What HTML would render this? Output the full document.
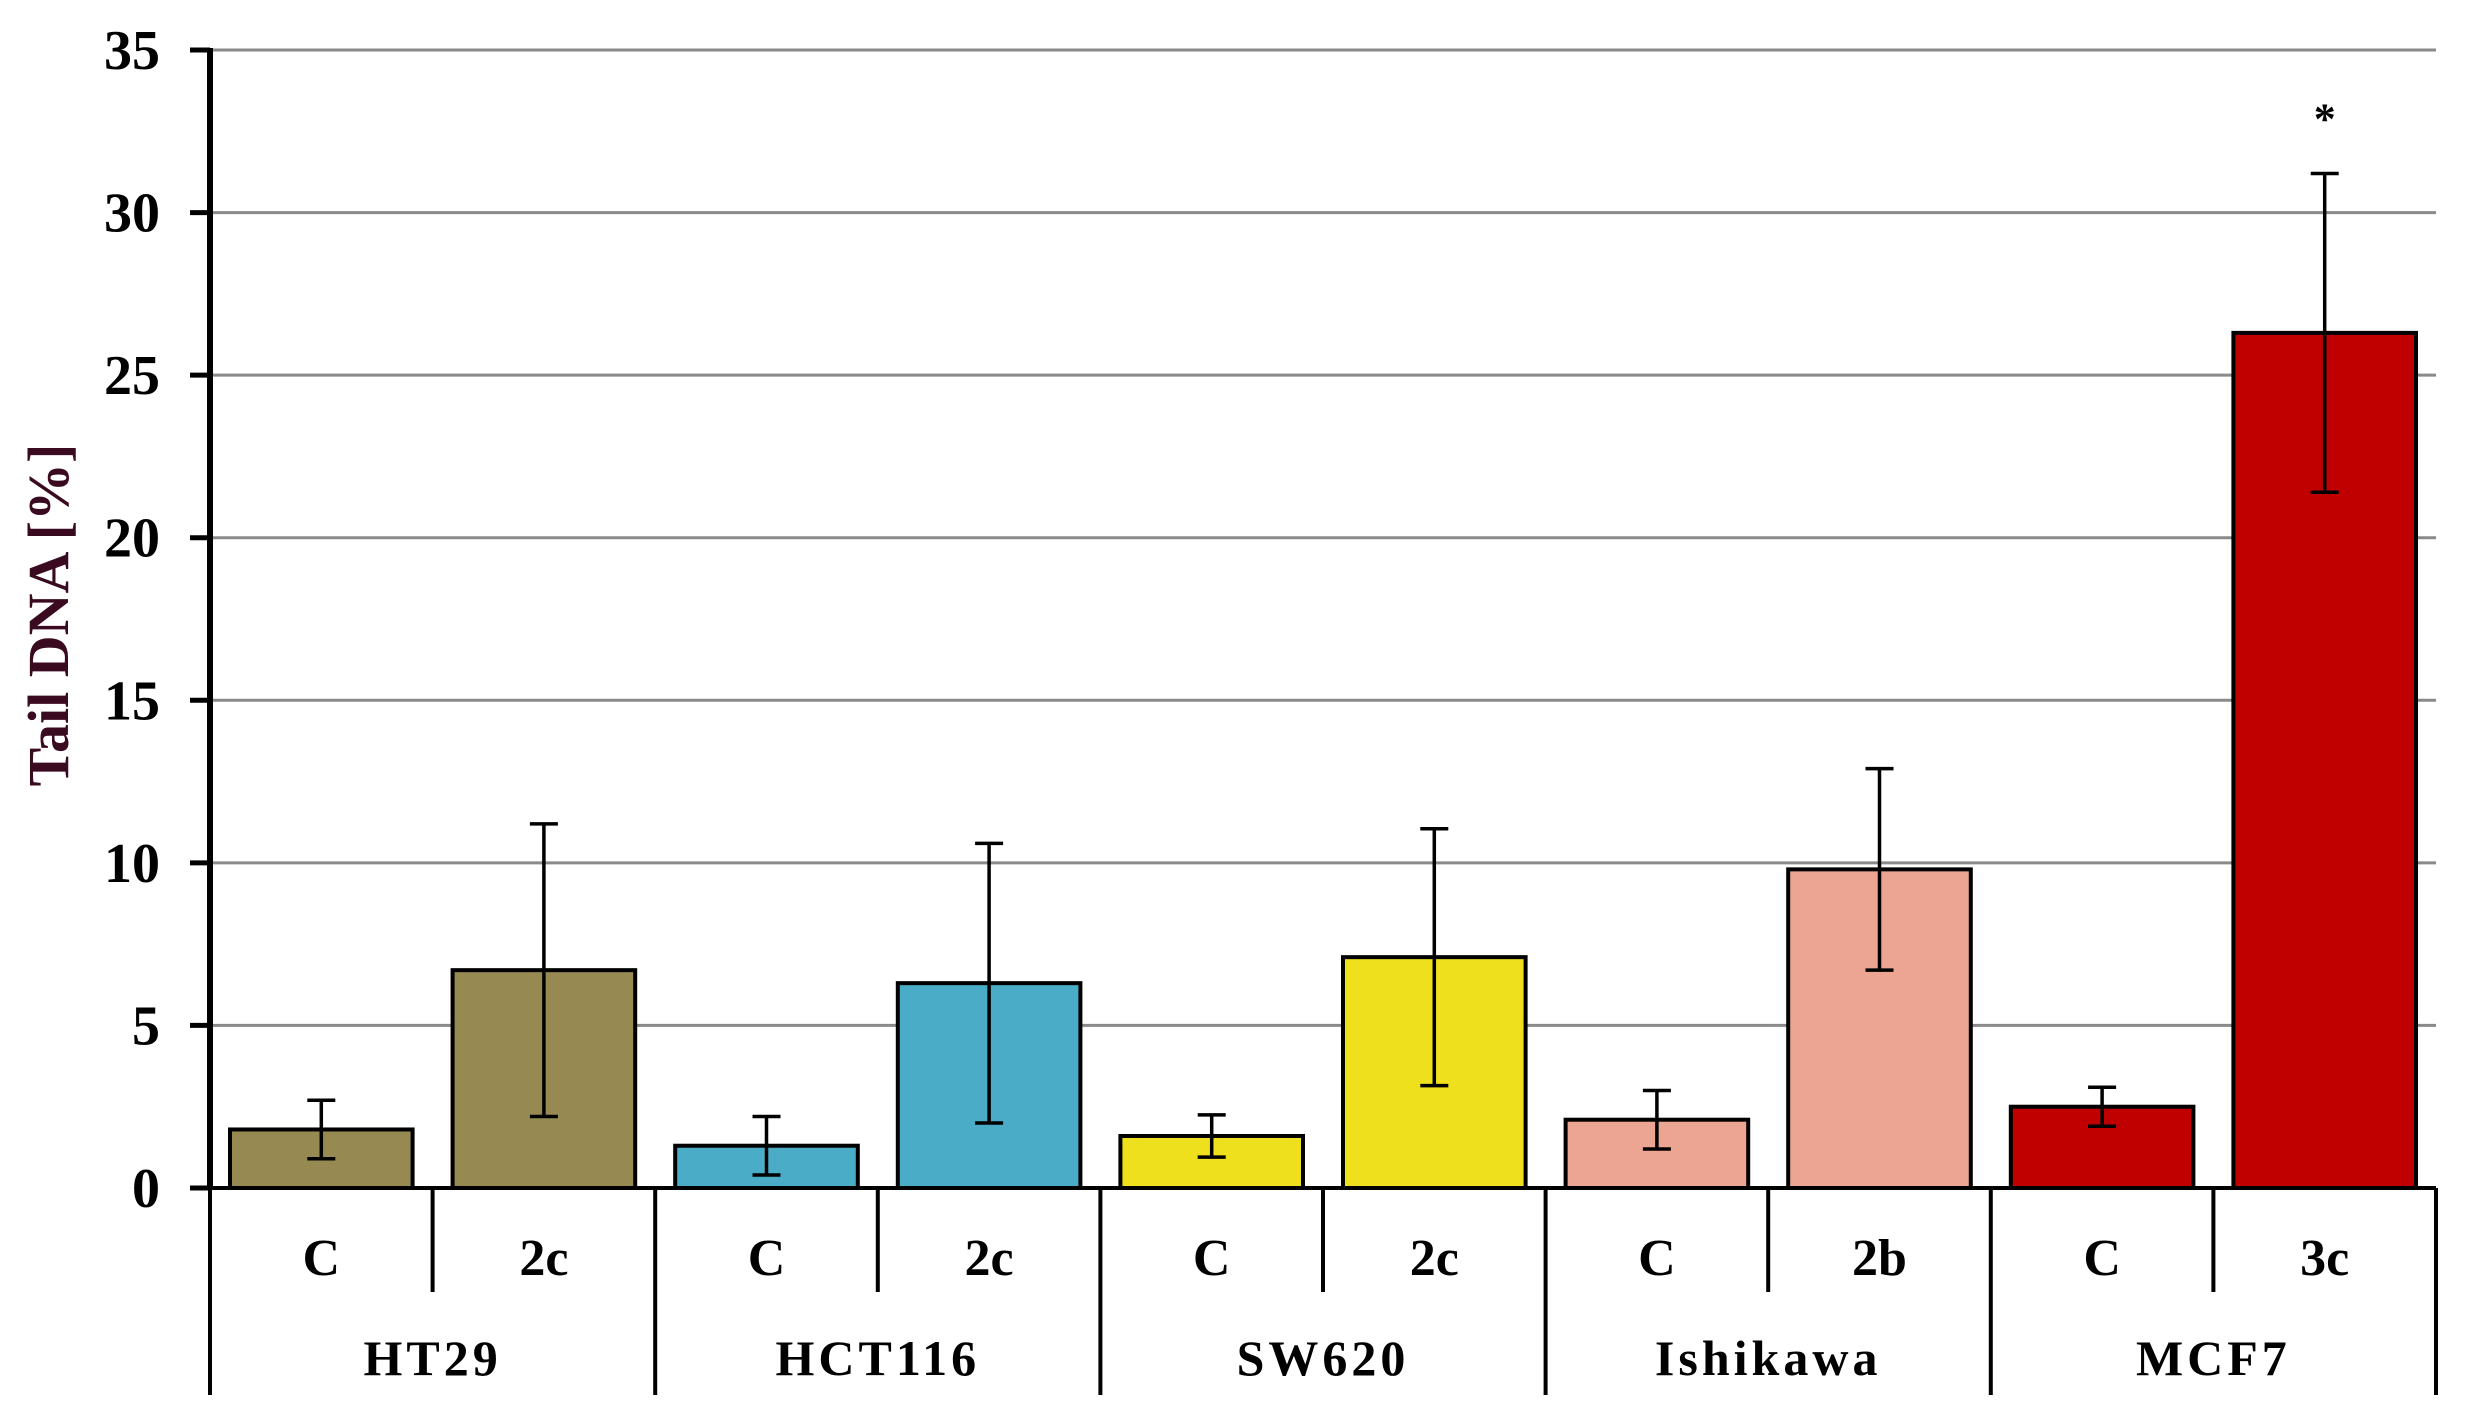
<!DOCTYPE html>
<html><head><meta charset="utf-8"><style>
html,body{margin:0;padding:0;background:#fff;}
svg{display:block;}
text{font-family:"Liberation Serif",serif;font-weight:bold;}
</style></head><body>
<svg id="chart" width="2470" height="1415"></svg>
<script>
const groups=["HT29","HCT116","SW620","Ishikawa","MCF7"];
const subLabels=["C","2c","C","2c","C","2c","C","2b","C","3c"];
const values=[1.8,6.7,1.3,6.3,1.6,7.1,2.1,9.8,2.5,26.3];
const errors=[0.9,4.5,0.9,4.3,0.65,3.95,0.9,3.1,0.6,4.9];
const colors=["#968a52","#968a52","#4aacc6","#4aacc6","#eee01c","#eee01c","#eca592","#eca592","#c00000","#c00000"];
const yTicks=[0,5,10,15,20,25,30,35];
const stars=["","","","","","","","","","*"];
const NS="http://www.w3.org/2000/svg";
const svg=document.getElementById('chart');
const X0=210,X1=2436,Y0=1188,Y35=50,YMAX=35;
const slot=(X1-X0)/values.length;
function y(v){return Y0-(v/YMAX)*(Y0-Y35);}
function x(i){return X0+slot*i;}
function mk(t,a){const e=document.createElementNS(NS,t);for(const k in a)e.setAttribute(k,a[k]);svg.appendChild(e);return e;}
yTicks.forEach(t=>{
  if(t>0){const g=mk('line',{x1:X0,x2:X1,y1:y(t),y2:y(t),stroke:'#8a8a8a','stroke-width':3});
  
  }
  const tk=mk('line',{x1:190,x2:X0,y1:y(t),y2:y(t),stroke:'#000','stroke-width':5});
  
  
  const l=mk('text',{x:160,y:y(t)+19,'text-anchor':'end','font-size':56,fill:'#000'});
  l.textContent=t;
  
  
});
values.forEach((v,i)=>{
  const bx=x(i)+20,bw=slot-40;
  const r=mk('rect',{x:bx,y:y(v),width:bw,height:Y0-y(v),fill:colors[i],stroke:'#000','stroke-width':4});
  
  
  const cx=x(i)+slot/2,hi=v+errors[i],lo=v-errors[i];
  const e=mk('path',{d:`M${cx},${y(hi)}V${y(lo)}M${cx-14},${y(hi)}H${cx+14}M${cx-14},${y(lo)}H${cx+14}`,stroke:'#000','stroke-width':3.5,fill:'none'});
  
  
  if(stars[i]){const s=mk('text',{x:cx,y:y(hi)-40,'text-anchor':'middle','font-size':44,fill:'#000'});
    s.textContent=stars[i];
    
    }
  const sl=mk('text',{x:cx,y:1275,'text-anchor':'middle','font-size':52,fill:'#000'});
  sl.textContent=subLabels[i];
  
  
  if(i%2===1){const d=mk('line',{x1:x(i),x2:x(i),y1:Y0,y2:1292,stroke:'#000','stroke-width':4});
    
    }
});
for(let g=0;g<=groups.length;g++){
  const d=mk('line',{x1:x(g*2),x2:x(g*2),y1:Y0,y2:1395,stroke:'#000','stroke-width':4});
  
  
  if(g<groups.length){const t=mk('text',{x:x(g*2)+slot,y:1375,'text-anchor':'middle','font-size':50,'letter-spacing':4,fill:'#000'});
    t.textContent=groups[g];
    
    }
}
const xa=mk('line',{x1:X0,x2:X1,y1:Y0,y2:Y0,stroke:'#000','stroke-width':4});


const ya=mk('line',{x1:X0,x2:X0,y1:Y35-2,y2:Y0+2,stroke:'#000','stroke-width':6});


const yt=mk('text',{x:0,y:0,transform:'translate(68,615) rotate(-90)','text-anchor':'middle','font-size':58,fill:'#3a0a20'});
yt.textContent='Tail DNA [%]';


</script>
</body></html>
